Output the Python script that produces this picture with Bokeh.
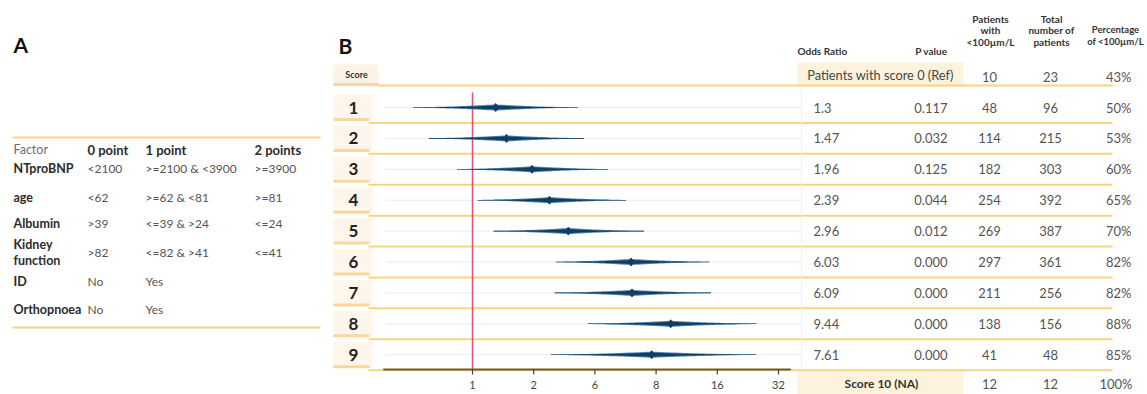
import numpy as np
from bokeh.plotting import figure
from bokeh.models import Range1d, LogScale
from bokeh.core.properties import value
from bokeh.embed import file_html
from bokeh.resources import INLINE

# ---------------- data: panel A (scoring table) ----------------
factor_names = ["NTproBNP", "age", "Albumin", "Kidney function", "ID", "Orthopnoea"]
zero_point = ["<2100", "<62", ">39", ">82", "No", "No"]
one_point = [">=2100  & <3900", ">=62 & <81", "<=39 & >24", "<=82 & >41", "Yes", "Yes"]
two_points = [">=3900", ">=81", "<=24", "<=41", "", ""]
table_a_header = ["Factor", "0 point", "1 point", "2 points"]

# ---------------- data: panel B (forest plot) ----------------
scores = [1, 2, 3, 4, 5, 6, 7, 8, 9]
odds_ratio = [1.3, 1.47, 1.96, 2.39, 2.96, 6.03, 6.09, 9.44, 7.61]
ci_low = [0.51, 0.61, 0.84, 1.06, 1.27, 2.57, 2.54, 3.69, 2.43]
ci_high = [3.3, 3.53, 4.64, 5.69, 6.98, 14.6, 14.9, 24.9, 24.9]
p_values = ["0.117", "0.032", "0.125", "0.044", "0.012", "0.000", "0.000", "0.000", "0.000"]
patients_below = [48, 114, 182, 254, 269, 297, 211, 138, 41]
total_patients = [96, 215, 303, 392, 387, 361, 256, 156, 48]
pct_below = ["50%", "53%", "60%", "65%", "70%", "82%", "82%", "88%", "85%"]
odds_ratio_labels = ["1.3", "1.47", "1.96", "2.39", "2.96", "6.03", "6.09", "9.44", "7.61"]
ref_label, ref_below, ref_total, ref_pct = "Patients with score 0 (Ref)", 10, 23, "43%"
na_label, na_below, na_total, na_pct = "Score 10 (NA)", 12, 12, "100%"
axis_ticks = [1, 2, 4, 8, 16, 32]
axis_tick_labels = ["1", "2", "6", "8", "16", "32"]
axis_span = [0.364, 36.8]

# ---------------- layout / style ----------------
W, H = 1147, 394
FONT = value("Lato")
YELLOW = "#f5d67f"
BEIGE = "#fdf3e4"
ORANGE = "#f9d69c"
NAVY = "#0f3d63"
GREY_TXT = "#555555"
DARK_TXT = "#2b2b2b"

PX_ONE, PX_PER_DOUBLING = 472, 61.2
or_start = 2 ** (-PX_ONE / PX_PER_DOUBLING)
or_end = 2 ** ((W - PX_ONE) / PX_PER_DOUBLING)

p = figure(width=W, height=H, x_range=Range1d(0, W), y_range=Range1d(H, 0),
           x_axis_type=None, y_axis_type=None, min_border=0,
           toolbar_location=None, output_backend="svg")
p.outline_line_color = None
p.grid.visible = False
p.background_fill_color = "white"
p.extra_x_ranges = {"or": Range1d(or_start, or_end)}
p.extra_x_scales = {"or": LogScale()}


def txt(x, y, t, size="11px", bold=False, color=GREY_TXT, align="left", **kw):
    xs = x if isinstance(x, list) else [x]
    ys = y if isinstance(y, list) else [y]
    ts = t if isinstance(t, list) else [t]
    n = max(len(xs), len(ys), len(ts))
    xs = xs * n if len(xs) == 1 else xs
    ys = ys * n if len(ys) == 1 else ys
    ts = ts * n if len(ts) == 1 else ts
    p.text(x=xs, y=ys, text=[str(s) for s in ts], text_font=FONT, text_font_size=size,
           text_font_style="bold" if bold else "normal", text_color=color,
           text_align=align, text_baseline="middle", **kw)


# ================= Panel A =================
txt(13, 44, "A", size="21px", bold=True, color="#111111")
p.segment(x0=[12, 12], x1=[320, 320], y0=[137, 327], y1=[137, 327], line_color=YELLOW, line_width=2)
A_COLS = [13, 87, 145, 254]
txt(A_COLS[0], 149, table_a_header[0], size="12.5px", color="#707070")
txt(A_COLS[1:], 149, table_a_header[1:], size="13px", bold=True, color=DARK_TXT)
a_rows_y = [168, 197, 223, 252, 281, 309]
for name, z, o, t, y in zip(factor_names, zero_point, one_point, two_points, a_rows_y):
    if " " in name:
        parts = name.split(" ")
        txt(A_COLS[0], [y - 8, y + 8], parts, size="12.5px", bold=True, color=DARK_TXT)
    else:
        txt(A_COLS[0], y, name, size="12.5px", bold=True, color=DARK_TXT)
    txt(A_COLS[1:], y, [z, o, t], size="12px", color=GREY_TXT)

# ================= Panel B =================
ROW1_Y, ROW_H = 107, 30.9
row_y = [ROW1_Y + ROW_H * (s - 1) for s in scores]
REF_Y, NA_Y = 76, 383

txt(338, 45, "B", size="21px", bold=True, color="#111111")

# header "Score" box and score label boxes
p.quad(left=[333], right=[378], top=[64], bottom=[84], fill_color=BEIGE, line_color=None)
p.segment(x0=[333], x1=[378], y0=[84], y1=[84], line_color=ORANGE, line_width=3)
txt(356, 74, "Score", size="9px", bold=True, color="#333333", align="center")
p.quad(left=333, right=372, top=[y - 13 for y in row_y], bottom=[y + 12 for y in row_y],
       fill_color=BEIGE, fill_alpha=0.75, line_color=None)
p.segment(x0=333, x1=369, y0=[y + 12 for y in row_y], y1=[y + 12 for y in row_y],
          line_color=ORANGE, line_width=3)
txt(353, row_y, scores, size="17px", bold=True, color="#222222", align="center")

# ref / NA boxes
p.quad(left=[797, 797], right=[963, 963], top=[62, 371], bottom=[86, 394],
       fill_color="#fdf3dc", line_color=None)

# yellow row separators
sep_y = [85] + [y + ROW_H / 2 for y in row_y]
p.segment(x0=[377] + [368] * len(row_y), x1=1112, y0=sep_y, y1=sep_y,
          line_color=YELLOW, line_width=2)

# faint row guide lines and vertical separator
p.segment(x0=385, x1=800, y0=row_y, y1=row_y, line_color="#e8ecf1", line_width=1)
p.segment(x0=[801], x1=[801], y0=[90], y1=[366], line_color="#efefef", line_width=1)

# reference line at OR = 1
p.segment(x0=[1], x1=[1], y0=[92], y1=[369], x_range_name="or", line_color="#e4507c", line_width=1.5)

# forest "spindles"
xs_out, ys_out, xs_in, ys_in = [], [], [], []
for lo, mid, hi, yc in zip(ci_low, odds_ratio, ci_high, row_y):
    for hmax, power, xs_l, ys_l in ((2.8, 1.7, xs_out, ys_out), (1.8, 2.8, xs_in, ys_in)):
        t = np.linspace(0, 1, 40)
        lx = 2 ** (np.log2(lo) + t * (np.log2(mid) - np.log2(lo)))
        rx = 2 ** (np.log2(mid) + t * (np.log2(hi) - np.log2(mid)))
        lh = hmax * t ** power + 0.3
        rh = hmax * (1 - t) ** power + 0.3
        top_x = np.concatenate([lx, rx])
        top_h = np.concatenate([lh, rh])
        xs_l.append(list(np.concatenate([top_x, top_x[::-1]])))
        ys_l.append(list(np.concatenate([yc - top_h, (yc + top_h)[::-1]])))
p.patches(xs_out, ys_out, x_range_name="or", fill_color="#2f6a97", fill_alpha=0.8, line_color=None)
p.patches(xs_in, ys_in, x_range_name="or", fill_color=NAVY, line_color=None)
p.scatter(x=odds_ratio, y=row_y, x_range_name="or", marker="diamond", size=8,
          fill_color=NAVY, line_color=NAVY)

# x axis drawn on the log scale
p.segment(x0=[axis_span[0]], x1=[axis_span[1]], y0=[369], y1=[369], x_range_name="or",
          line_color="#6f5d22", line_width=2)
p.segment(x0=axis_ticks, x1=axis_ticks, y0=369, y1=374, x_range_name="or",
          line_color="#444444", line_width=1.2)
txt(axis_ticks, 384, axis_tick_labels, size="11px", color="#444444", align="center", x_range_name="or")

# right-hand table headers
txt(797, 50, "Odds Ratio", size="10px", bold=True, color="#333333")
txt(947, 50, "P value", size="10px", bold=True, color="#333333", align="right")
txt(990, [18, 29, 41], ["Patients", "with", "<100µm/L"], size="10px", bold=True, color="#333333", align="center")
txt(1051, [18, 29, 41], ["Total", "number of", "patients"], size="10px", bold=True, color="#333333", align="center")
txt(1115, [29, 41], ["Percentage", "of <100µm/L"], size="9.5px", bold=True, color="#333333", align="center")

# reference / NA rows
VAL = "13px"
txt(880, REF_Y - 2, ref_label, size="12.8px", color="#444444", align="center")
txt(989, REF_Y, ref_below, size=VAL, align="center")
txt(1050, REF_Y, ref_total, size=VAL, align="center")
txt(1131, REF_Y, ref_pct, size=VAL, align="right")
txt(881, NA_Y, na_label, size="12px", bold=True, color="#333333", align="center")
txt(989, NA_Y, na_below, size=VAL, align="center")
txt(1050, NA_Y, na_total, size=VAL, align="center")
txt(1132, NA_Y, na_pct, size=VAL, align="right")

# score rows
txt(813, row_y, odds_ratio_labels, size=VAL)
txt(947, row_y, p_values, size=VAL, align="right")
txt(989, row_y, patients_below, size=VAL, align="center")
txt(1050, row_y, total_patients, size=VAL, align="center")
txt(1131, row_y, pct_below, size=VAL, align="right")

open("out.html", "w").write(file_html(p, INLINE))
